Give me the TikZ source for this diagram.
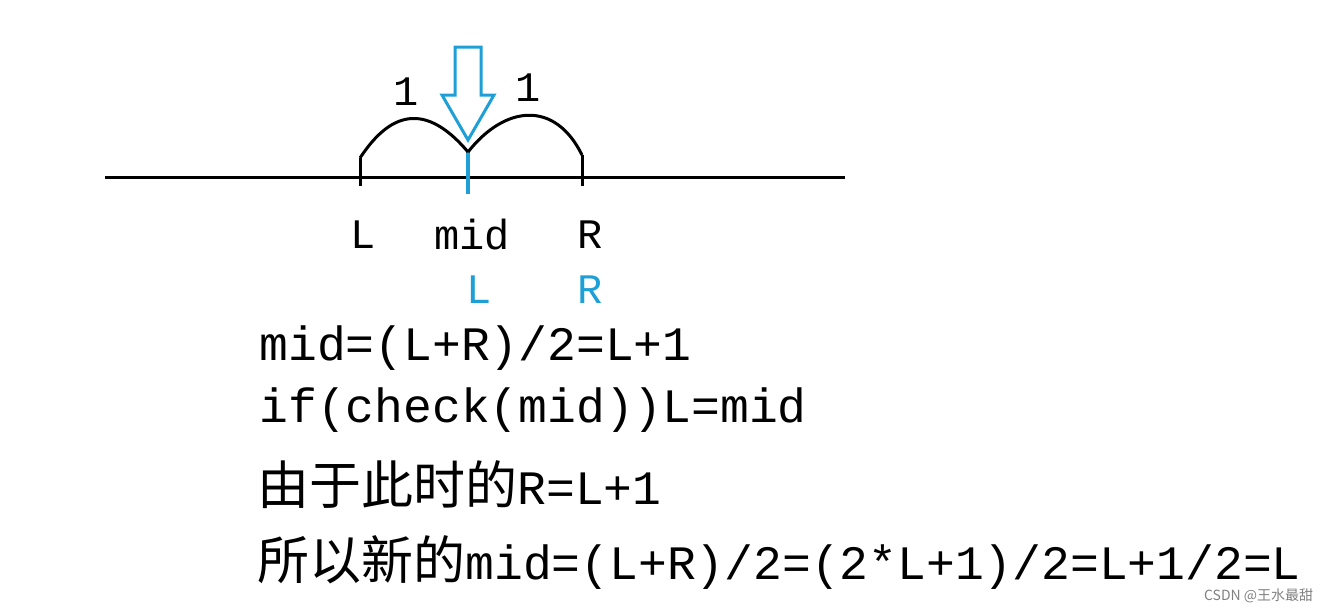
\documentclass[tikz,border=0pt]{standalone}
\usepackage{fontspec}
\setmainfont{Liberation Mono}
\newfontfamily\cjk{Noto Sans CJK SC}
\definecolor{midblue}{RGB}{30,160,215}
\tikzset{every picture/.style={line width=3pt}}
\tikzset{
  lab/.style={font=\fontsize{42}{42}\selectfont, inner sep=0pt},
  codeline/.style={font=\fontsize{48}{48}\selectfont, anchor=west, inner sep=0pt},
}
\begin{document}
\begin{tikzpicture}[x=1pt,y=1pt,yscale=-1,xscale=1]
	\useasboundingbox (0,0) rectangle (1331,614);
	
	% axis and ticks
	\coordinate (axl) at (105,177);
	\coordinate (axr) at (845,177);
	\draw (axl) -- (axr);
	\draw (360,158) -- (360,186);
	\draw (582,155) -- (582,186);
	\draw [midblue, line width=3.5pt] (468,152) -- (468,194);
	
	% arcs
	\draw (360,158) .. controls (385,120) and (420,95) .. (468,152);
	\draw (468,152) .. controls (505,105) and (555,100) .. (582,155);
	\node [lab] (oneL) at (406,92) {1};
	\node [lab] (oneR) at (528,88) {1};
	
	% hollow arrow
	\draw [midblue, line width=3pt, line join=miter] (455,47) -- (481,47) -- (481,95) -- (494,95) -- (468,140) -- (442,95) -- (455,95) -- cycle;
	
	% labels
	\node [lab] (L) at (363,235) {L};
	\node [lab] (mid) at (472,235) {mid};
	\node [lab] (R) at (590,235) {R};
	\node [lab, text=midblue] (L2) at (479,290) {L};
	\node [lab, text=midblue] (R2) at (590,290) {R};
	
	% text
	\node [codeline] (ln1) at (258,348) {mid=(L+R)/2=L+1};
	\node [codeline] (ln2) at (258,410) {if(check(mid))L=mid};
	\node [codeline] (ln3) at (256,485) {{\cjk\fontsize{52}{52}\selectfont 由于此时的}R=L+1};
	\node [codeline] (ln4) at (256,563) {{\cjk\fontsize{52}{52}\selectfont 所以新的}mid=(L+R)/2=(2*L+1)/2=L+1/2=L};
	
	% watermark
	\node [anchor=east, text=gray, font=\cjk\fontsize{14}{14}\selectfont] (wm) at (1318,596) {CSDN @王水最甜};
\end{tikzpicture}
\end{document}
